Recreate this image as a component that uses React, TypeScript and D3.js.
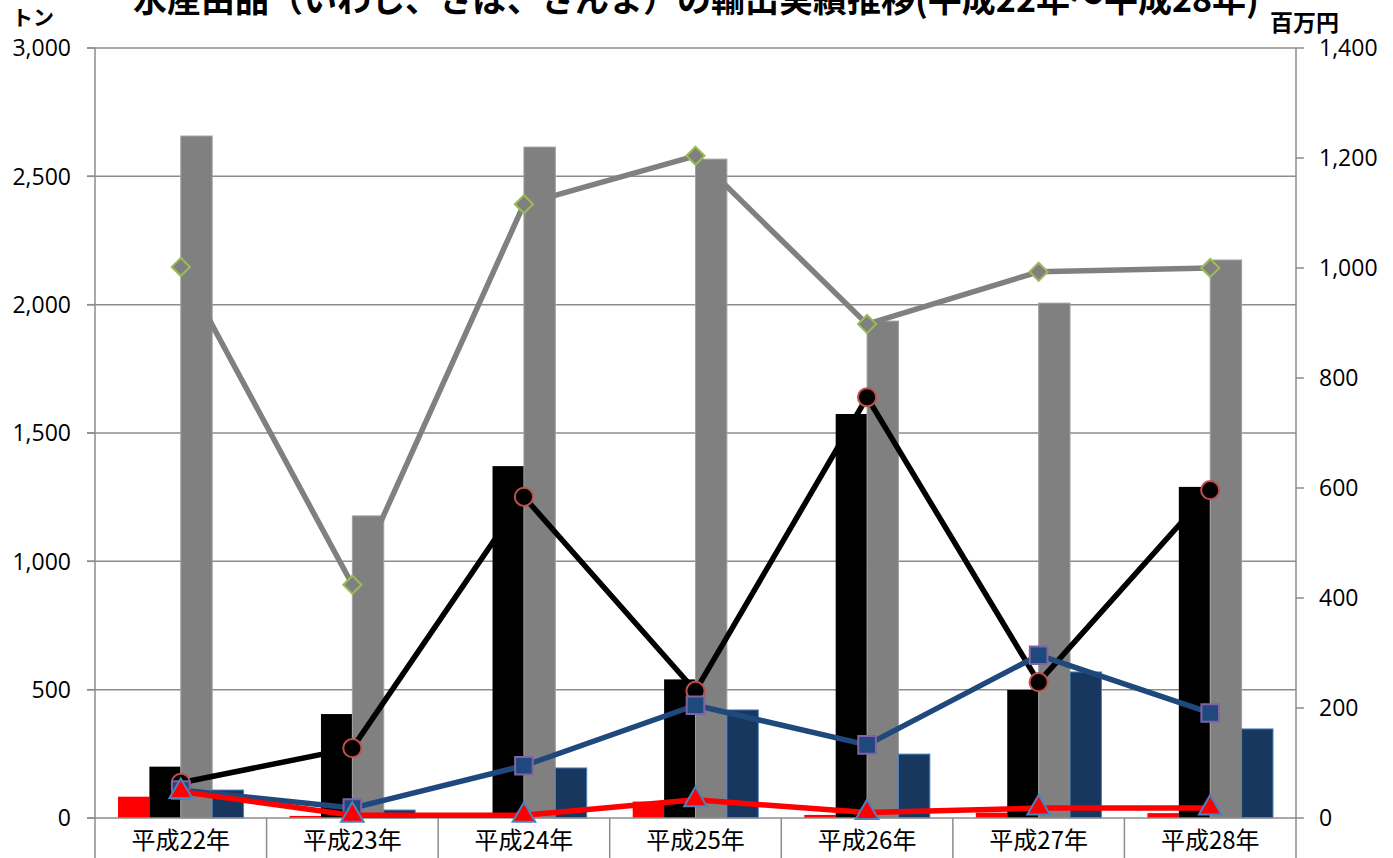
import React, { useEffect, useRef } from 'react';
import * as d3 from 'd3';

const categories = ['平成22年', '平成23年', '平成24年', '平成25年', '平成26年', '平成27年', '平成28年'];

// bars, left axis (トン)
const barRed = [83, 8, 5, 64, 12, 21, 19];
const barBlack = [200, 405, 1371, 540, 1574, 499, 1290];
const barGray = [2657, 1177, 2614, 2567, 1936, 2006, 2174];
const barNavy = [109, 31, 195, 421, 249, 569, 347];

// lines, right axis (百万円)
const lineGray = [1002, 424, 1116, 1204, 898, 993, 1000];
const lineBlack = [64, 127, 584, 231, 765, 247, 596];
const lineNavy = [51, 18, 95, 205, 133, 296, 191];
const lineRed = [48, 5, 5, 33, 10, 18, 18];

const leftTicks = [0, 500, 1000, 1500, 2000, 2500, 3000];
const rightTicks = [0, 200, 400, 600, 800, 1000, 1200, 1400];

const W = 1393;
const H = 858;
const font = '"Open Sans", "Noto Sans", sans-serif';
const jpFont = '"Noto Sans CJK JP", sans-serif';

export default function App() {
  const svgRef = useRef<SVGSVGElement>(null);

  useEffect(() => {
    document.body.style.margin = '0';
    if (!svgRef.current) return;
    const svg = d3.select(svgRef.current);
    svg.selectAll('*').remove();

    const left = 95, right = 1296, top = 48, bottom = 818;

    const x = d3.scaleBand<string>().domain(categories).range([left, right]);
    const bw = x.bandwidth();
    const x1 = d3.scaleBand<number>().domain([0, 1, 2, 3]).range([23, bw - 23]);
    const yL = d3.scaleLinear().domain([0, 3000]).range([bottom, top]);
    const yR = d3.scaleLinear().domain([0, 1400]).range([bottom, top]);

    const grid = '#8c8c8c';

    // gridlines
    svg.append('g')
      .selectAll('line')
      .data(leftTicks.slice(1))
      .join('line')
      .attr('x1', left - 8).attr('x2', right)
      .attr('y1', (d) => yL(d)).attr('y2', (d) => yL(d))
      .attr('stroke', grid).attr('stroke-width', 1.5);

    // left axis
    const la = svg.append('g');
    la.append('line').attr('x1', left).attr('x2', left).attr('y1', top).attr('y2', H)
      .attr('stroke', grid).attr('stroke-width', 1.5);
    la.selectAll('line.t').data(leftTicks).join('line').attr('class', 't')
      .attr('x1', left - 8).attr('x2', left)
      .attr('y1', (d) => yL(d)).attr('y2', (d) => yL(d))
      .attr('stroke', grid).attr('stroke-width', 1.5);
    la.selectAll('text').data(leftTicks).join('text')
      .attr('x', 71).attr('y', (d) => yL(d)).attr('dy', '0.36em')
      .attr('text-anchor', 'end').attr('font-family', font).attr('font-size', 23)
      .text((d) => d3.format(',')(d));

    // right axis
    const ra = svg.append('g');
    ra.append('line').attr('x1', right).attr('x2', right).attr('y1', top).attr('y2', H)
      .attr('stroke', grid).attr('stroke-width', 1.5);
    ra.selectAll('line.t').data(rightTicks).join('line').attr('class', 't')
      .attr('x1', right).attr('x2', right + 8)
      .attr('y1', (d) => yR(d)).attr('y2', (d) => yR(d))
      .attr('stroke', grid).attr('stroke-width', 1.5);
    ra.selectAll('text').data(rightTicks).join('text')
      .attr('x', 1319).attr('y', (d) => yR(d)).attr('dy', '0.36em')
      .attr('text-anchor', 'start').attr('font-family', font).attr('font-size', 23)
      .text((d) => d3.format(',')(d));

    // bars
    const barSeries = [
      { data: barRed, fill: '#ff0000', stroke: 'none' },
      { data: barBlack, fill: '#000000', stroke: 'none' },
      { data: barGray, fill: '#808080', stroke: '#a0a0a0' },
      { data: barNavy, fill: '#17375e', stroke: '#4f81bd' },
    ];
    barSeries.forEach((s, i) => {
      svg.append('g')
        .selectAll('rect')
        .data(s.data)
        .join('rect')
        .attr('x', (_, j) => (x(categories[j]) as number) + (x1(i) as number))
        .attr('y', (d) => yL(d))
        .attr('width', x1.bandwidth())
        .attr('height', (d) => bottom - yL(d))
        .attr('fill', s.fill)
        .attr('stroke', s.stroke)
        .attr('stroke-width', 1);
    });

    // x axis
    const xa = svg.append('g');
    xa.append('line').attr('x1', left - 8).attr('x2', right).attr('y1', bottom).attr('y2', bottom)
      .attr('stroke', grid).attr('stroke-width', 1.5);
    xa.selectAll('line.t').data(categories.slice(1)).join('line').attr('class', 't')
      .attr('x1', (d) => x(d) as number).attr('x2', (d) => x(d) as number)
      .attr('y1', bottom).attr('y2', H)
      .attr('stroke', grid).attr('stroke-width', 1.5);
    xa.selectAll('text').data(categories).join('text')
      .attr('x', (d) => (x(d) as number) + bw / 2).attr('y', 840).attr('dy', '0.36em')
      .attr('text-anchor', 'middle').attr('font-family', jpFont).attr('font-size', 24)
      .text((d) => d);

    // lines
    const cx = (j: number) => (x(categories[j]) as number) + bw / 2;
    const lineGen = d3.line<number>().x((_, j) => cx(j)).y((d) => yR(d));

    const lineSeries = [
      { data: lineGray, color: '#808080', marker: d3.symbolDiamond2, size: 210, mFill: '#808080', mStroke: '#9bbb59' },
      { data: lineBlack, color: '#000000', marker: d3.symbolCircle, size: 260, mFill: '#000000', mStroke: '#c0504d' },
      { data: lineNavy, color: '#1f497d', marker: d3.symbolSquare, size: 310, mFill: '#1f497d', mStroke: '#8064a2' },
      { data: lineRed, color: '#ff0000', marker: d3.symbolTriangle, size: 220, mFill: '#ff0000', mStroke: '#4f81bd' },
    ];
    lineSeries.forEach((s) => {
      const g = svg.append('g');
      g.append('path')
        .datum(s.data)
        .attr('d', lineGen)
        .attr('fill', 'none')
        .attr('stroke', s.color)
        .attr('stroke-width', 5.5)
        .attr('stroke-linejoin', 'round');
      g.selectAll('path.m')
        .data(s.data)
        .join('path')
        .attr('class', 'm')
        .attr('transform', (d, j) => `translate(${cx(j)},${yR(d)})`)
        .attr('d', d3.symbol().type(s.marker).size(s.size)())
        .attr('fill', s.mFill)
        .attr('stroke', s.mStroke)
        .attr('stroke-width', 2);
    });

    // units
    svg.append('text').attr('x', 12).attr('y', 25)
      .attr('font-family', jpFont).attr('font-weight', 'bold').attr('font-size', 21)
      .text('トン');
    svg.append('text').attr('x', 1270).attr('y', 31)
      .attr('font-family', jpFont).attr('font-weight', 'bold').attr('font-size', 23)
      .text('百万円');

    // title (top clipped by the frame, as in the original)
    svg.append('text').attr('x', 696).attr('y', 12)
      .attr('text-anchor', 'middle')
      .attr('font-family', jpFont).attr('font-weight', 'bold').attr('font-size', 34)
      .text('水産由品（いわし、さば、さんま）の輸出実績推移(平成22年～平成28年)');
  }, []);

  return <svg ref={svgRef} width={W} height={H} style={{ display: 'block', background: '#fff' }} />;
}
